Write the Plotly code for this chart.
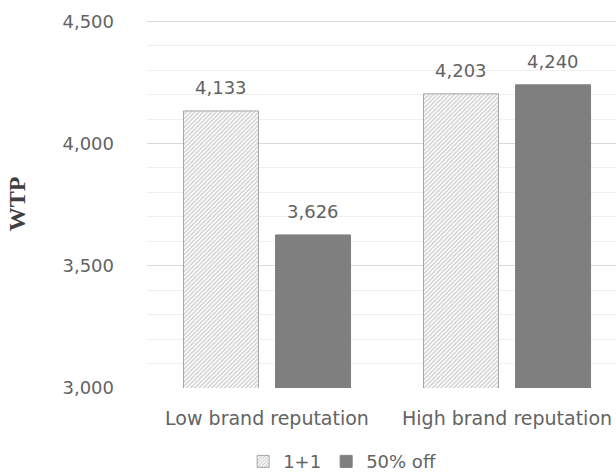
import plotly.graph_objects as go

categories = ["Low brand reputation", "High brand reputation"]
series_names = ["1+1", "50% off"]
values_1plus1 = [4133, 4203]
values_50off = [3626, 4240]
y_ticks = [3000, 3500, 4000, 4500]

FONT = "DejaVu Sans"
GRAY_TXT = "#636363"

fig = go.Figure()
fig.add_trace(go.Bar(
    name=series_names[0], x=categories, y=values_1plus1,
    marker=dict(color="white",
                pattern=dict(shape="/", fgcolor="#9a9a9a", bgcolor="white", size=3, solidity=0.45),
                line=dict(color="#a6a6a6", width=1)),
))
fig.add_trace(go.Bar(
    name=series_names[1], x=categories, y=values_50off,
    marker=dict(color="#7f7f80", line=dict(color="#7f7f80", width=1)),
))

# value labels
for vals, shift in ((values_1plus1, -46), (values_50off, 46)):
    for c, v in zip(categories, vals):
        fig.add_annotation(x=c, y=v, text=f"{v:,}", showarrow=False,
                           xshift=shift, yshift=23, yanchor="middle",
                           font=dict(family=FONT, size=18, color=GRAY_TXT))

fig.update_layout(
    width=616, height=474,
    margin=dict(l=147, r=0, t=20, b=86),
    paper_bgcolor="white", plot_bgcolor="white",
    barmode="group", bargap=0.233, bargroupgap=0.185,
    font=dict(family=FONT, color=GRAY_TXT, size=18),
    legend=dict(orientation="h", x=0.205, y=0.026, xanchor="left", yanchor="middle",
                yref="container",
                font=dict(family=FONT, size=18, color=GRAY_TXT), itemwidth=30,
                tracegroupgap=0),
    showlegend=True,
)
fig.update_xaxes(type="category", range=[-0.5, 1.454], showgrid=False, automargin=False,
                 showline=False, ticks="", ticklabelstandoff=17,
                 tickfont=dict(family=FONT, size=19, color=GRAY_TXT))
fig.update_yaxes(range=[3000, 4505], tickvals=y_ticks, tickformat=",", automargin=False,
                 showgrid=True, gridcolor="#d9d9d9", gridwidth=1,
                 minor=dict(dtick=100, showgrid=True, gridcolor="#efefef", gridwidth=1),
                 zeroline=False, showline=False, ticks="", ticklabelstandoff=32,
                 tickfont=dict(family=FONT, size=18, color=GRAY_TXT),
                 title=dict(text="<b>WTP</b>", standoff=30,
                            font=dict(family="Liberation Serif", size=24, color="#404040")))

fig.write_html("out.html")
